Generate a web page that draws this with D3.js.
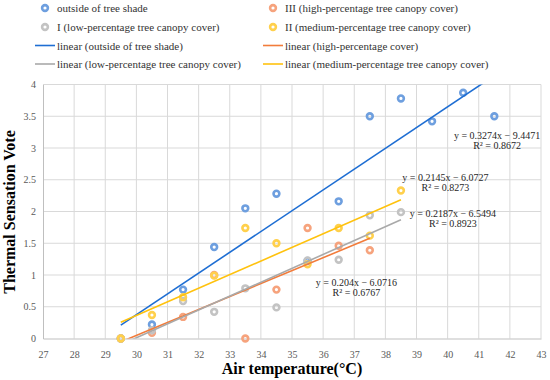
<!DOCTYPE html>
<html><head><meta charset="utf-8">
<script src="https://cdn.jsdelivr.net/npm/d3@7/dist/d3.min.js"></script>
<style>
html,body{margin:0;padding:0;background:#fff;}
svg{display:block;}
svg text{font-family:"Liberation Serif","Times New Roman",serif !important;}
</style></head>
<body>
<svg id="chart" width="550" height="380"></svg>
<script>
// ---- data ----
const seriesNames = ["outside of tree shade", "III (high-percentage tree canopy cover)", "I (low-percentage tree canopy cover)", "II (medium-percentage tree canopy cover)"];
const trendNames = ["linear (outside of tree shade)", "linear (high-percentage cover)", "linear (low-percentage tree canopy cover)", "linear (medium-percentage tree canopy cover)"];
const outsideX = [29.5, 30.5, 31.5, 32.5, 33.5, 34.5, 35.5, 36.5, 37.5, 38.5, 39.5, 40.5, 41.5];
const outsideY = [0, 0.22, 0.77, 1.44, 2.05, 2.28, 1.22, 2.16, 3.5, 3.78, 3.42, 3.87, 3.5];
const highX = [29.5, 30.5, 31.5, 32.5, 33.5, 34.5, 35.5, 36.5, 37.5];
const highY = [0, 0.09, 0.34, 1.0, 0, 0.77, 1.74, 1.46, 1.39];
const lowX = [29.5, 30.5, 31.5, 32.5, 33.5, 34.5, 35.5, 36.5, 37.5, 38.5];
const lowY = [0, 0.13, 0.59, 0.42, 0.79, 0.49, 1.23, 1.24, 1.94, 1.99];
const mediumX = [29.5, 30.5, 31.5, 32.5, 33.5, 34.5, 35.5, 36.5, 37.5, 38.5];
const mediumY = [0, 0.37, 0.65, 0.99, 1.74, 1.5, 1.17, 1.74, 1.62, 2.33];
const slopes = [0.3274, 0.204, 0.2187, 0.2145];
const intercepts = [-9.4471, -6.0716, -6.5494, -6.0727];
const eqLabels = ["y = 0.3274x \u2212 9.4471", "y = 0.204x \u2212 6.0716", "y = 0.2187x \u2212 6.5494", "y = 0.2145x \u2212 6.0727"];
const r2Labels = ["R\u00b2 = 0.8672", "R\u00b2 = 0.6767", "R\u00b2 = 0.8923", "R\u00b2 = 0.8273"];
const xTicks = [27, 28, 29, 30, 31, 32, 33, 34, 35, 36, 37, 38, 39, 40, 41, 42, 43];
const yTicks = [0, 0.5, 1, 1.5, 2, 2.5, 3, 3.5, 4];
const xTitle = "Air temperature(\u00b0C)";
const yTitle = "Thermal Sensation Vote";

// ---- styles ----
const FONT = "Liberation Serif, Times New Roman, serif";
const markerColors = ["#6E9FDF", "#F6A37D", "#C3C3C3", "#FFD04C"];
const lineColors = ["#1E6ED3", "#F27C3B", "#A9A9A9", "#FFC20E"];
// label anchor (data coords) for equations
const labelPos = [[41.59, 3.134], [37.07, 0.83], [40.17, 1.913], [39.93, 2.483]];

const svg = d3.select("#chart");
const x = d3.scaleLinear().domain([27, 43]).range([43, 541]);
const y = d3.scaleLinear().domain([0, 4]).range([338.5, 84.5]);

// grid
svg.append("g").selectAll("line").data(xTicks.slice(1)).join("line")
  .attr("x1", d => x(d)).attr("x2", d => x(d)).attr("y1", y(0)).attr("y2", y(4))
  .attr("stroke", "#D9D9D9").attr("stroke-width", 1);
svg.append("g").selectAll("line").data(yTicks.slice(1)).join("line")
  .attr("x1", x(27)).attr("x2", x(43)).attr("y1", d => y(d)).attr("y2", d => y(d))
  .attr("stroke", "#D9D9D9").attr("stroke-width", 1);

// axes
const xAxis = d3.axisBottom(x).tickValues(xTicks).tickSize(0).tickPadding(12).tickFormat(d => String(d));
const yAxis = d3.axisLeft(y).tickValues(yTicks).tickSize(0).tickPadding(7).tickFormat(d => String(d));
const gx = svg.append("g").attr("transform", `translate(0,${y(0)})`).call(xAxis);
const gy = svg.append("g").attr("transform", `translate(${x(27)},0)`).call(yAxis);
[gx, gy].forEach(g => {
  g.attr("font-family", FONT);
  g.select(".domain").attr("stroke", "#BFBFBF").attr("stroke-width", 1);
  g.selectAll("text").attr("font-family", FONT).attr("font-size", 10).attr("fill", "#595959");
});

// clip
svg.append("clipPath").attr("id", "plotclip").append("rect")
  .attr("x", x(27)).attr("y", y(4)).attr("width", x(43) - x(27)).attr("height", y(0) - y(4));

const allX = [outsideX, highX, lowX, mediumX];
const allY = [outsideY, highY, lowY, mediumY];

// markers
allX.forEach((xs, i) => {
  const pts = xs.map((v, j) => [v, allY[i][j]]);
  svg.append("g").selectAll("circle").data(pts).join("circle")
    .attr("cx", d => x(d[0])).attr("cy", d => y(d[1])).attr("r", 2.9)
    .attr("fill", "none").attr("stroke", markerColors[i]).attr("stroke-width", 2.6);
});

// trend lines
const lineGen = d3.line().x(d => x(d[0])).y(d => y(d[1]));
allX.forEach((xs, i) => {
  const x0 = d3.min(xs), x1 = d3.max(xs);
  const pts = [[x0, slopes[i] * x0 + intercepts[i]], [x1, slopes[i] * x1 + intercepts[i]]];
  svg.append("path").attr("d", lineGen(pts)).attr("clip-path", "url(#plotclip)")
    .attr("fill", "none").attr("stroke", lineColors[i]).attr("stroke-width", 1.6);
});

// equation labels
labelPos.forEach((p, i) => {
  const g = svg.append("g").attr("font-family", FONT).attr("font-size", 10).attr("fill", "#262626").attr("text-anchor", "middle");
  g.append("text").attr("x", x(p[0])).attr("y", y(p[1])).text(eqLabels[i]);
  g.append("text").attr("x", x(p[0])).attr("y", y(p[1]) + 10).text(r2Labels[i]);
});

// titles
svg.append("text").attr("x", 292).attr("y", 374).attr("text-anchor", "middle").attr("font-family", FONT)
  .attr("font-size", 16).attr("font-weight", "bold").attr("fill", "#000").text(xTitle);
svg.append("text").attr("transform", "translate(15,212) rotate(-90)").attr("text-anchor", "middle").attr("font-family", FONT)
  .attr("font-size", 16).attr("font-weight", "bold").attr("fill", "#000").text(yTitle);

// legend
const legCols = [45, 273];
const legRows = [8, 27, 45.5, 64];
seriesNames.forEach((name, k) => {
  const cx = legCols[k % 2], cy = legRows[Math.floor(k / 2)];
  svg.append("circle").attr("cx", cx).attr("cy", cy).attr("r", 2.9)
    .attr("fill", "none").attr("stroke", markerColors[k]).attr("stroke-width", 2.6);
  svg.append("text").attr("x", cx + 12).attr("y", cy + 4).attr("font-family", FONT).attr("font-size", 11).attr("fill", "#333333").text(name);
});
trendNames.forEach((name, k) => {
  const cx = legCols[k % 2], cy = legRows[2 + Math.floor(k / 2)];
  svg.append("line").attr("x1", cx - 10).attr("x2", cx + 10).attr("y1", cy).attr("y2", cy)
    .attr("stroke", lineColors[k]).attr("stroke-width", 1.6);
  svg.append("text").attr("x", cx + 12).attr("y", cy + 4).attr("font-family", FONT).attr("font-size", 11).attr("fill", "#333333").text(name);
});
</script>
</body></html>
